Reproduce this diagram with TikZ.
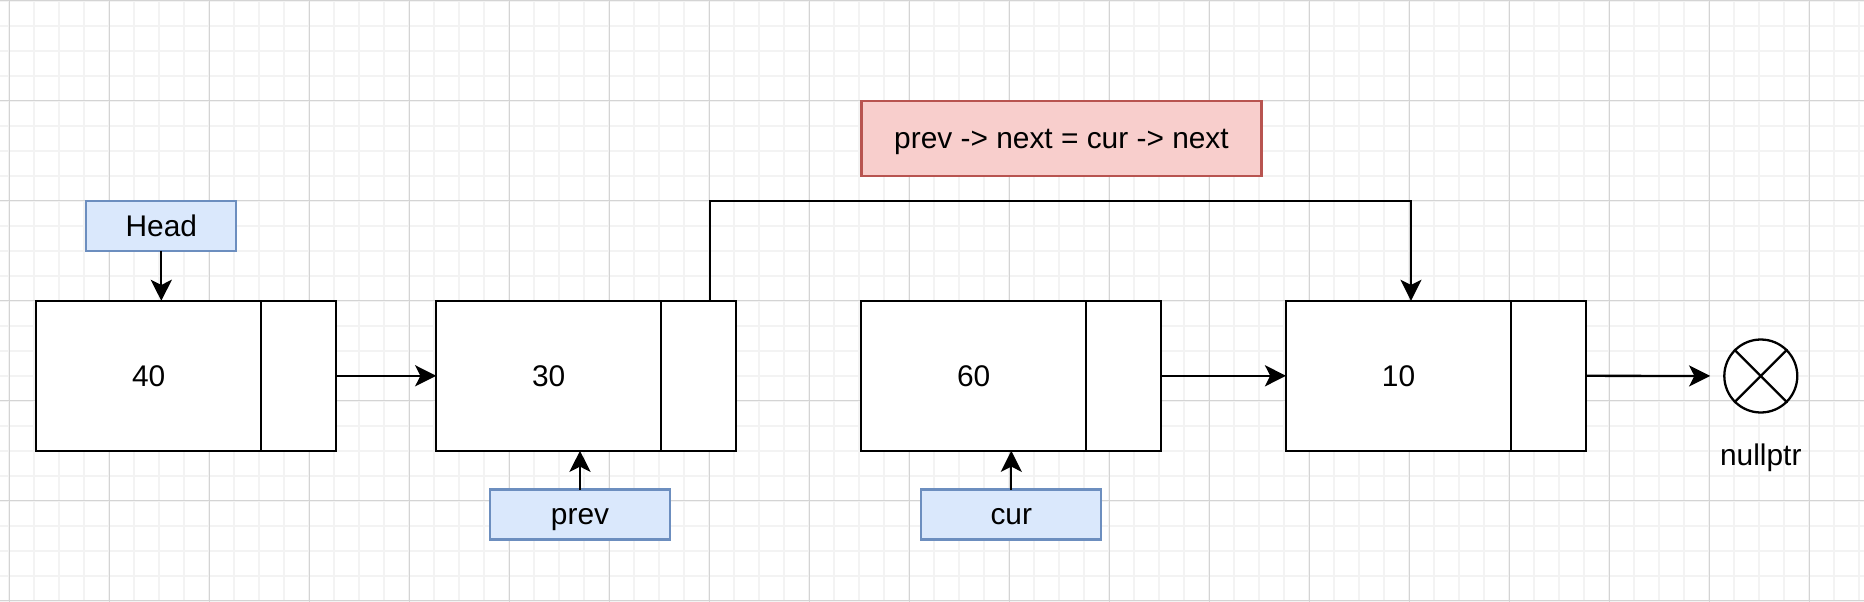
\documentclass[tikz,border=0pt]{standalone}
\usepackage{fontspec}
\setmainfont{Liberation Sans}
\usetikzlibrary{arrows.meta}

\definecolor{gridmajor}{HTML}{D4D4D4}
\definecolor{gridminor}{HTML}{F3F3F3}
\definecolor{tagfill}{HTML}{DAE8FC}
\definecolor{tagline}{HTML}{6C8EBF}
\definecolor{notefill}{HTML}{F8CECC}
\definecolor{noteline}{HTML}{B85450}

\tikzset{
  cell/.style={draw, fill=white, line width=1.3pt, minimum height=3cm, outer sep=0pt, inner sep=0pt},
  data/.style={cell, minimum width=4.5cm},
  link/.style={cell, minimum width=1.5cm, anchor=west},
  tag/.style={draw=tagline, fill=tagfill, line width=1.3pt, minimum height=1cm, outer sep=0pt},
  arr/.style={-{Stealth[length=12pt,width=12pt,inset=3pt]}, line width=1.3pt},
}

\begin{document}
\begin{tikzpicture}[x=0.02cm, y=-0.02cm, font=\fontsize{17}{20}\selectfont,
  every node/.style={text height=15.4pt, text depth=3.6pt}]
\useasboundingbox (0,0) rectangle (1864,602);
% background grid
\foreach \x in {9.3,34.3,...,1864} \draw[gridminor, line width=1pt] (\x,0) -- (\x,602);
\foreach \y in {0.7,25.7,...,602} \draw[gridminor, line width=1pt] (0,\y) -- (1864,\y);
\foreach \x in {9.3,109.3,...,1864} \draw[gridmajor, line width=0.6pt] (\x,0) -- (\x,602);
\foreach \y in {0.7,100.7,...,602} \draw[gridmajor, line width=0.6pt] (0,\y) -- (1864,\y);

% list nodes
\node[data] (d40) at (148.7,375.8) {40};
\node[link] (p40) at (d40.east) {};
\node[data] (d30) at (548.7,375.8) {30};
\node[link] (p30) at (d30.east) {};
\node[data] (d60) at (973.7,375.8) {60};
\node[link] (p60) at (d60.east) {};
\node[data] (d10) at (1398.5,375.8) {10};
\node[link] (p10) at (d10.east) {};

% pointers
\node[tag, minimum width=3cm] (head) at (161.3,226) {Head};
\node[tag, minimum width=3.6cm] (prev) at (580,514.6) {prev};
\node[tag, minimum width=3.6cm] (cur) at (1011.3,514.5) {cur};
\node[draw=noteline, fill=notefill, line width=1.3pt, minimum width=8cm, minimum height=1.5cm]
  (note) at (1061.5,138.5) {prev -> next = cur -> next};

% nullptr
\node[circle, draw, fill=white, line width=1.3pt, minimum size=1.46cm, inner sep=0pt] (null) at (1760.8,376) {};
\draw[line width=1.3pt] (null.north west) -- (null.south east);
\draw[line width=1.3pt] (null.north east) -- (null.south west);
\node (nulltext) at (1760.8,455) {nullptr};

% links
\draw[arr] (head.south) -- (head.south |- d40.north);
\draw[arr] (p40) -- (d30);
\draw[arr] (prev.north) -- (prev.north |- d30.south);
\draw[arr] (cur.north) -- (cur.north |- d60.south);
\draw[arr] (p60) -- (d10);
\draw[arr, shorten >=0.26cm] (p10) -- (null);
\draw[arr] ([xshift=0.23cm]p30.north) -- ++(0,-100) -| ([xshift=0.25cm]d10.north);
\end{tikzpicture}
\end{document}
